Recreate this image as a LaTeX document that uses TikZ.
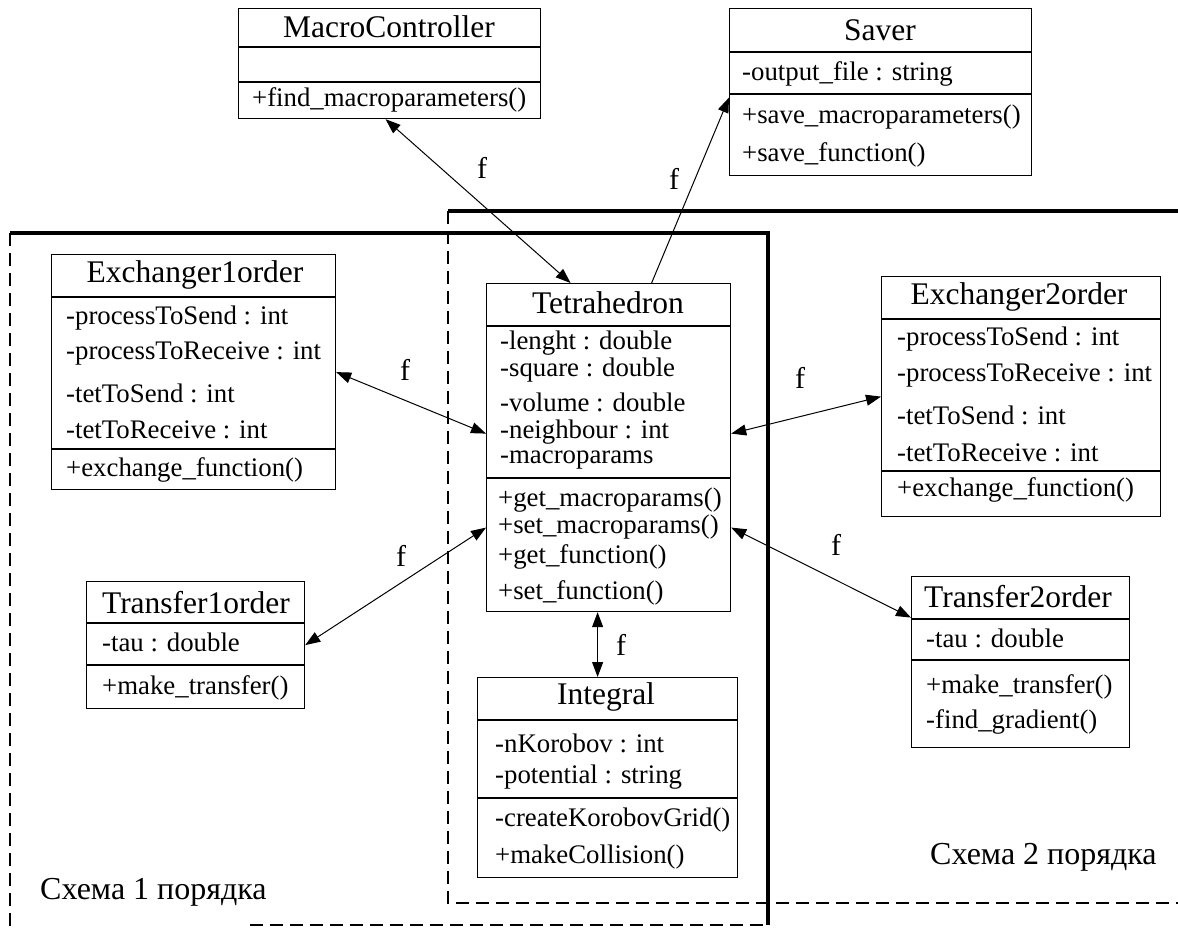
\documentclass[tikz,border=0pt]{standalone}
\usepackage{fontspec}
\setmainfont{Liberation Serif}
\usetikzlibrary{arrows.meta}
\begin{document}
\begin{tikzpicture}[x=1pt,y=-1pt,
  cls/.style={draw, line width=1.2pt, inner sep=0pt, anchor=north west},
  hdr/.style={font=\fontsize{31.5}{33}\selectfont, inner sep=0pt},
  attr/.style={font=\fontsize{26.8}{28}\selectfont, inner sep=0pt, anchor=west},
  lbl/.style={font=\fontsize{30}{32}\selectfont, inner sep=0pt},
  sep/.style={line width=1.2pt},
  conn/.style={line width=1pt},
  both/.style={conn, {Triangle[length=15pt,width=11pt]}-{Triangle[length=15pt,width=11pt]}},
  one/.style={conn, -{Triangle[length=15pt,width=11pt]}},
  frm/.style={line width=3.5pt},
  dsh/.style={line width=1.4pt, dash pattern=on 13pt off 7pt},
  captxt/.style={font=\fontsize{32}{34}\selectfont, inner sep=0pt, anchor=west}]
\useasboundingbox (0,0) rectangle (1178,928);

% frames
\draw[dsh] (10,233) -- (10,928);
\draw[dsh] (250,925) -- (768,925);
\draw[frm] (10,233) -- (768,233) -- (768,925);
\draw[dsh] (448,211) -- (448,903) -- (1178,903);
\draw[frm] (448,211) -- (1178,211);

% MacroController
\node[cls, minimum width=302pt, minimum height=110pt] (mc) at (238,8) {};
\draw[sep] (238,47) -- (540,47);
\draw[sep] (238,82) -- (540,82);
\node[hdr] (mch) at (389,27) {MacroController};
\node[attr] (mc1) at (252,100) {+find\_macroparameters()};

% Saver
\node[cls, minimum width=302pt, minimum height=167pt] (sv) at (729,8) {};
\draw[sep] (729,52) -- (1031,52);
\draw[sep] (729,94) -- (1031,94);
\node[hdr] (svh) at (880,30) {Saver};
\node[attr] (sv1) at (742,74) {-output\_file : string};
\node[attr] (sv2) at (742,117) {+save\_macroparameters()};
\node[attr] (sv3) at (742,155) {+save\_function()};

% Exchanger1order
\node[cls, minimum width=284pt, minimum height=235pt] (ex1) at (51,254) {};
\draw[sep] (51,297) -- (335,297);
\draw[sep] (51,449) -- (335,449);
\node[hdr] (ex1h) at (195,275) {Exchanger1order};
\node[attr] (ex11) at (66,318) {-processToSend : int};
\node[attr] (ex12) at (66,353) {-processToReceive : int};
\node[attr] (ex13) at (66,393) {-tetToSend : int};
\node[attr] (ex14) at (66,430) {-tetToReceive : int};
\node[attr] (ex15) at (66,470) {+exchange\_function()};

% Tetrahedron
\node[cls, minimum width=244pt, minimum height=328pt] (tet) at (486,283) {};
\draw[sep] (486,326) -- (730,326);
\draw[sep] (486,478) -- (730,478);
\node[hdr] (teth) at (608,303) {Tetrahedron};
\node[attr] (tet1) at (500,343) {-lenght : double};
\node[attr] (tet2) at (500,370) {-square : double};
\node[attr] (tet3) at (500,402) {-volume : double};
\node[attr] (tet4) at (500,432) {-neighbour : int};
\node[attr] (tet5) at (500,460) {-macroparams};
\node[attr] (tet6) at (498,500) {+get\_macroparams()};
\node[attr] (tet7) at (498,527) {+set\_macroparams()};
\node[attr] (tet8) at (498,557) {+get\_function()};
\node[attr] (tet9) at (498,593) {+set\_function()};

% Integral
\node[cls, minimum width=260pt, minimum height=200pt] (int) at (477,677) {};
\draw[sep] (477,720) -- (737,720);
\draw[sep] (477,798) -- (737,798);
\node[hdr] (inth) at (606,697) {Integral};
\node[attr] (int1) at (495,743) {-nKorobov : int};
\node[attr] (int2) at (495,777) {-potential : string};
\node[attr] (int3) at (495,820) {-createKorobovGrid()};
\node[attr] (int4) at (495,857) {+makeCollision()};

% Exchanger2order
\node[cls, minimum width=279pt, minimum height=240pt] (ex2) at (881,276) {};
\draw[sep] (881,319) -- (1160,319);
\draw[sep] (881,471) -- (1160,471);
\node[hdr] (ex2h) at (1019,297) {Exchanger2order};
\node[attr] (ex21) at (897,339) {-processToSend : int};
\node[attr] (ex22) at (897,375) {-processToReceive : int};
\node[attr] (ex23) at (897,415) {-tetToSend : int};
\node[attr] (ex24) at (897,453) {-tetToReceive : int};
\node[attr] (ex25) at (897,490) {+exchange\_function()};

% Transfer1order
\node[cls, minimum width=218pt, minimum height=127pt] (tr1) at (86,581) {};
\draw[sep] (86,623) -- (304,623);
\draw[sep] (86,665) -- (304,665);
\node[hdr] (tr1h) at (196,603) {Transfer1order};
\node[attr] (tr11) at (102,642) {-tau : double};
\node[attr] (tr12) at (102,688) {+make\_transfer()};

% Transfer2order
\node[cls, minimum width=218pt, minimum height=171pt] (tr2) at (911,576) {};
\draw[sep] (911,619) -- (1129,619);
\draw[sep] (911,660) -- (1129,660);
\node[hdr] (tr2h) at (1018,597) {Transfer2order};
\node[attr] (tr21) at (926,638) {-tau : double};
\node[attr] (tr22) at (926,687) {+make\_transfer()};
\node[attr] (tr23) at (926,722) {-find\_gradient()};

% connectors
\draw[both] ([xshift=-4pt]mc.south) -- ([xshift=-38pt]tet.north);
\draw[one] ([xshift=43pt]tet.north) -- ([yshift=-5.5pt]sv.west);
\draw[both] (ex1.east) -- ([yshift=14pt]tet.west);
\draw[both] (tr1.east) -- ([yshift=-80pt]tet.west);
\draw[both] ([yshift=14pt]tet.east) -- (ex2.west);
\draw[both] ([yshift=-80pt]tet.east) -- ([yshift=44.5pt]tr2.west);
\draw[both] ([xshift=-11pt]tet.south) -- ([xshift=-10pt]int.north);

% labels
\node[lbl] (f1) at (482,168) {f};
\node[lbl] (f2) at (674,179) {f};
\node[lbl] (f3) at (405,370) {f};
\node[lbl] (f4) at (401,556) {f};
\node[lbl] (f5) at (800,378) {f};
\node[lbl] (f6) at (836,545) {f};
\node[lbl] (f7) at (621,645) {f};

% captions
\node[captxt] (c1) at (40,892) {Схема 1 порядка};
\node[captxt] (c2) at (930,857) {Схема 2 порядка};
\end{tikzpicture}
\end{document}
